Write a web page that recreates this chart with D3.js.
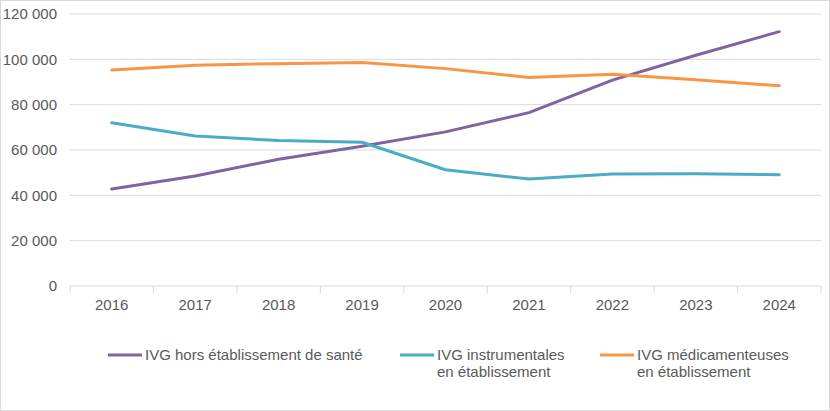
<!DOCTYPE html>
<html>
<head>
<meta charset="utf-8">
<script src="https://cdn.jsdelivr.net/npm/d3@7"></script>
<style>
  body { margin: 0; background: #fff; }
  svg { display: block; font-family: "Liberation Sans", Arial, sans-serif; }
</style>
</head>
<body>
<div id="chart"></div>
<script>
// Données
const years = ["2016", "2017", "2018", "2019", "2020", "2021", "2022", "2023", "2024"];
const horsEtablissement = [42800, 48500, 55900, 61700, 68000, 76500, 90800, 101800, 112200];
const instrumentales = [72000, 66200, 64200, 63400, 51300, 47200, 49400, 49500, 49100];
const medicamenteuses = [95300, 97400, 98100, 98600, 95900, 92000, 93400, 91000, 88300];
const yTicks = [0, 20000, 40000, 60000, 80000, 100000, 120000];

const series = [
  { name: ["IVG hors établissement de santé"], values: horsEtablissement, color: "#8064a2", lx: 108 },
  { name: ["IVG instrumentales", "en établissement"], values: instrumentales, color: "#4bacc6", lx: 400 },
  { name: ["IVG médicamenteuses", "en établissement"], values: medicamenteuses, color: "#f79646", lx: 600 }
];

const W = 830, H = 411;
const margin = { top: 14, right: 9, bottom: 125, left: 70 };
const width = W - margin.left - margin.right;
const height = H - margin.top - margin.bottom;

const svg = d3.select("#chart").append("svg")
  .attr("width", W).attr("height", H);

// cadre
svg.append("rect")
  .attr("x", 0.5).attr("y", 0.5)
  .attr("width", W - 1).attr("height", H - 1)
  .attr("fill", "#fff").attr("stroke", "#d9d9d9");

const g = svg.append("g").attr("transform", `translate(${margin.left},${margin.top})`);

const x = d3.scaleBand().domain(years).range([0, width]);
const y = d3.scaleLinear().domain([0, 120000]).range([height, 0]);
const fmt = v => d3.format(",")(v).replace(/,/g, " ");

// grille
g.selectAll(".grid")
  .data(yTicks.filter(d => d > 0))
  .enter().append("line")
  .attr("x1", 0).attr("x2", width)
  .attr("y1", d => y(d)).attr("y2", d => y(d))
  .attr("stroke", "#d9d9d9").attr("stroke-width", 1);

// axe Y (étiquettes seulement)
g.selectAll(".ylab")
  .data(yTicks)
  .enter().append("text")
  .attr("x", -13).attr("y", d => y(d))
  .attr("dy", "0.35em")
  .attr("text-anchor", "end")
  .style("font-size", "15px")
  .style("fill", "#595959")
  .text(fmt);

// axe X
g.append("line")
  .attr("x1", 0).attr("x2", width)
  .attr("y1", height).attr("y2", height)
  .attr("stroke", "#d9d9d9");

const edges = years.map(d => x(d)).concat([width]);
g.selectAll(".xtick")
  .data(edges)
  .enter().append("line")
  .attr("x1", d => d).attr("x2", d => d)
  .attr("y1", height).attr("y2", height + 7)
  .attr("stroke", "#d9d9d9");

g.selectAll(".xlab")
  .data(years)
  .enter().append("text")
  .attr("x", d => x(d) + x.bandwidth() / 2)
  .attr("y", height + 24)
  .attr("text-anchor", "middle")
  .style("font-size", "15px")
  .style("fill", "#595959")
  .text(d => d);

// courbes
const line = d3.line()
  .x((d, i) => x(years[i]) + x.bandwidth() / 2)
  .y(d => y(d));

series.forEach(s => {
  g.append("path")
    .datum(s.values)
    .attr("d", line)
    .attr("fill", "none")
    .attr("stroke", s.color)
    .attr("stroke-width", 3)
    .attr("stroke-linejoin", "round")
    .attr("stroke-linecap", "round");
});

// légende
const leg = svg.append("g");
series.forEach(s => {
  leg.append("line")
    .attr("x1", s.lx).attr("x2", s.lx + 34)
    .attr("y1", 355).attr("y2", 355)
    .attr("stroke", s.color).attr("stroke-width", 3);
  const t = leg.append("text")
    .attr("x", s.lx + 37).attr("y", 360)
    .style("font-size", "15px")
    .style("fill", "#595959");
  s.name.forEach((n, i) => {
    t.append("tspan").attr("x", s.lx + 37).attr("dy", i === 0 ? 0 : 17).text(n);
  });
});
</script>
</body>
</html>
